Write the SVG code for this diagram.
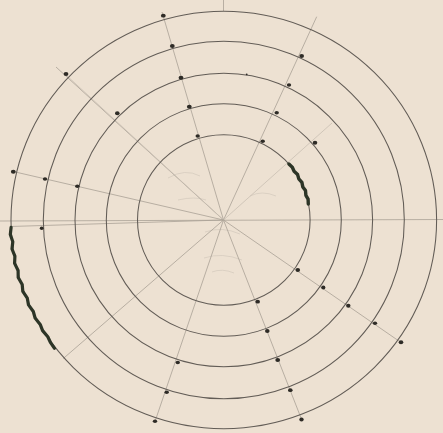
<svg xmlns="http://www.w3.org/2000/svg" width="443" height="433" viewBox="0 0 443 433">
  <style>
    .ring { fill: none; stroke: #625c56; stroke-width: 1.05; }
    .ray { stroke: #aaa196; stroke-width: 0.8; fill: none; }
    .ray.faint { stroke: #c9bfb3; }
    .dot { fill: #2e2b26; }
    .wave { fill: none; stroke: #2d3527; stroke-linecap: round; stroke-linejoin: round; }
    .sketch { fill: none; stroke: #d3c8bb; stroke-width: 0.7; }
  </style>
  <rect width="443" height="433" fill="#ede1d2"/>

  <g id="sketches">
    <path class="sketch" d="M168,178 Q185,168 200,176"/>
    <path class="sketch" d="M178,200 Q195,196 206,200"/>
    <path class="sketch" d="M250,196 Q262,190 276,196"/>
    <path class="sketch" d="M205,232 Q222,226 240,234"/>
    <path class="sketch" d="M204,258 Q222,252 242,260"/>
    <path class="sketch" d="M212,272 Q222,268 234,273"/>
  </g>

  <g id="connectors">
    <line class="ray" x1="223.5" y1="0" x2="223.5" y2="11"/>
    <line class="ray" x1="0" y1="221" x2="443" y2="219.5"/>
    <line class="ray" x1="223.5" y1="220" x2="10" y2="226.5"/>
    <line class="ray" x1="223.5" y1="220" x2="162" y2="12"/>
    <line class="ray" x1="223.5" y1="220" x2="316.7" y2="16.7"/>
    <line class="ray" x1="223.5" y1="220" x2="56" y2="67"/>
    <line class="ray faint" x1="223.5" y1="220" x2="65" y2="74"/>
    <line class="ray" x1="223.5" y1="220" x2="11" y2="171"/>
    <line class="ray" x1="223.5" y1="220" x2="63.3" y2="358.5"/>
    <line class="ray" x1="223.5" y1="220" x2="155" y2="421.5"/>
    <line class="ray" x1="223.5" y1="220" x2="301.8" y2="420"/>
    <line class="ray" x1="223.5" y1="220" x2="401.5" y2="342.8"/>
    <line class="ray faint" x1="223.5" y1="220" x2="332" y2="123"/>
  </g>

  <g id="rings">
    <ellipse id="ring1" class="ring" cx="223.8" cy="220" rx="86.3" ry="85.3"/>
    <ellipse id="ring2" class="ring" cx="223.8" cy="220" rx="117.5" ry="116.3"/>
    <ellipse id="ring3" class="ring" cx="223.8" cy="220" rx="148.8" ry="146.7"/>
    <ellipse id="ring4" class="ring" cx="223.8" cy="220" rx="180.5" ry="178.8"/>
    <ellipse id="ring5" class="ring" cx="223.8" cy="220" rx="212.8" ry="208.7"/>
  </g>

  <g id="arcs">
    <path class="wave" stroke-width="3.4" d="M288.9,164 L292.3,167.2 L294.1,171.3 L297.6,174.6 L298.8,178.9 L301.9,182.4 L302.8,186.9 L305.5,190.6 L305.9,195.3 L308.1,199.2 L308.3,204"/>
    <path class="wave" stroke-width="3.2" d="M11.1,227.3 L10.3,234.6 L12.8,241.8 L12.0,249 L14.9,256.2 L14.6,263.4 L18.1,270.5 L18.2,277.5 L22.2,284.5 L22.8,291.4 L27.3,298.2 L28.5,304.9 L33.3,311.5 L35.1,318 L40.2,324.4 L42.6,330.6 L47.8,336.7 L50.6,342.7 L54.5,348.3"/>
  </g>

  <g id="dots">
    <ellipse class="dot" cx="163.3" cy="15.7" rx="2.4" ry="1.9"/>
    <ellipse class="dot" cx="172.3" cy="46" rx="2.4" ry="2"/>
    <ellipse class="dot" cx="181" cy="77.7" rx="2.4" ry="2"/>
    <ellipse class="dot" cx="189.3" cy="106.7" rx="2.4" ry="2"/>
    <ellipse class="dot" cx="197.7" cy="136" rx="2.2" ry="1.8"/>
    <ellipse class="dot" cx="301.7" cy="56" rx="2.3" ry="1.9"/>
    <ellipse class="dot" cx="289" cy="85" rx="2.2" ry="1.7"/>
    <ellipse class="dot" cx="276.7" cy="112.7" rx="2.2" ry="1.7"/>
    <ellipse class="dot" cx="262.7" cy="141.3" rx="2.2" ry="1.8"/>
    <ellipse class="dot" cx="315" cy="142.7" rx="2.3" ry="2"/>
    <circle class="dot" cx="246.7" cy="74.3" r="0.9"/>
    <ellipse class="dot" cx="66" cy="74" rx="2.4" ry="2"/>
    <ellipse class="dot" cx="117.3" cy="113.3" rx="2.3" ry="2"/>
    <ellipse class="dot" cx="13.3" cy="171.7" rx="2.4" ry="2"/>
    <ellipse class="dot" cx="45" cy="179" rx="2.2" ry="1.8"/>
    <ellipse class="dot" cx="77.3" cy="186.3" rx="2.2" ry="1.8"/>
    <ellipse class="dot" cx="41.7" cy="228.3" rx="1.9" ry="1.8"/>
    <ellipse class="dot" cx="297.8" cy="270" rx="2.3" ry="1.9"/>
    <ellipse class="dot" cx="323.3" cy="287.5" rx="2.1" ry="1.9"/>
    <ellipse class="dot" cx="348.3" cy="305.7" rx="2.2" ry="2"/>
    <ellipse class="dot" cx="375" cy="323.3" rx="2.2" ry="1.8"/>
    <ellipse class="dot" cx="401" cy="342.3" rx="2.3" ry="2"/>
    <ellipse class="dot" cx="257.7" cy="301.7" rx="2.3" ry="1.9"/>
    <ellipse class="dot" cx="267.3" cy="331" rx="2.3" ry="1.9"/>
    <ellipse class="dot" cx="277.7" cy="360" rx="2.4" ry="2"/>
    <ellipse class="dot" cx="290.3" cy="390.2" rx="2.3" ry="1.9"/>
    <ellipse class="dot" cx="301.5" cy="419.5" rx="2.2" ry="1.9"/>
    <ellipse class="dot" cx="177.8" cy="362.5" rx="2.2" ry="1.8"/>
    <ellipse class="dot" cx="166.7" cy="392.3" rx="2.2" ry="1.8"/>
    <ellipse class="dot" cx="155" cy="421.2" rx="2.2" ry="1.8"/>
  </g>
</svg>
